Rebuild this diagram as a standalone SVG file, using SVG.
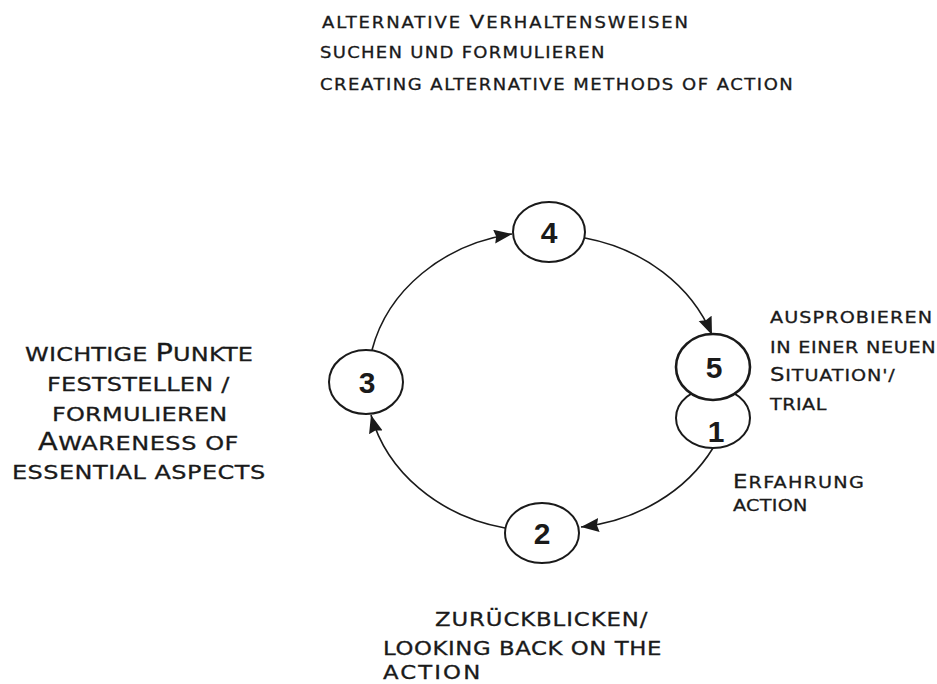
<svg xmlns="http://www.w3.org/2000/svg" width="937" height="684" viewBox="0 0 937 684">
<defs>
<style>
.lbl{font-family:"DejaVu Sans","Liberation Sans",Arial,sans-serif;fill:#1a1a1a;stroke:#1a1a1a;stroke-width:0.3;}
.node ellipse{fill:#fff;stroke:#1a1a1a;stroke-width:2;}
.node text{font-family:"Liberation Sans",Arial,sans-serif;font-weight:bold;font-size:30px;fill:#1a1a1a;text-anchor:middle;}
.conn path{fill:none;stroke:#1a1a1a;stroke-width:1.6;marker-end:url(#arr);}
</style>
<marker id="arr" markerUnits="userSpaceOnUse" markerWidth="19" markerHeight="15" refX="18" refY="7" orient="auto">
<path d="M0,0 L18,7 L0,14 L2,7 z" fill="#1a1a1a"/>
</marker>
</defs>
<rect width="937" height="684" fill="#fff"/>

<g id="connectors" class="conn">
<path d="M372,350 A174,152 0 0,1 512,234"/>
<path d="M585,238 A174,152 0 0,1 712,335"/>
<path d="M713,448 A174,152 0 0,1 581,527"/>
<path d="M505,528 A174,152 0 0,1 371,415"/>
</g>

<g id="node4" class="node"><ellipse cx="549" cy="232" rx="36" ry="30"/><text x="549" y="243">4</text></g>
<g id="node3" class="node"><ellipse cx="366" cy="382" rx="37" ry="32"/><text x="367" y="393">3</text></g>
<g id="node2" class="node"><ellipse cx="542" cy="533" rx="37" ry="30"/><text x="542" y="544">2</text></g>
<g id="node1" class="node"><ellipse cx="713" cy="418" rx="37" ry="30"/><text x="716" y="442">1</text></g>
<g id="node5" class="node"><ellipse cx="713" cy="367" rx="37" ry="33" style="stroke-width:2.6"/><text x="714" y="378">5</text></g>

<g id="label-top" class="lbl" font-size="15">
<text transform="translate(322,28) scale(1.2,1)" textLength="305" lengthAdjust="spacing">ALTERNATIVE <tspan font-size="18">V</tspan>ERHALTENSWEISEN</text>
<text transform="translate(320,58) scale(1.2,1)" textLength="237" lengthAdjust="spacing">SUCHEN UND FORMULIEREN</text>
<text transform="translate(320,90) scale(1.2,1)" textLength="394" lengthAdjust="spacing">CREATING ALTERNATIVE METHODS OF ACTION</text>
</g>

<g id="label-left" class="lbl" font-size="20">
<text transform="translate(25,361) scale(1.2,1)" textLength="190" lengthAdjust="spacing">WICHTIGE <tspan font-size="24">P</tspan>UNKTE</text>
<text transform="translate(47,391) scale(1.2,1)" textLength="152" lengthAdjust="spacing">FESTSTELLEN /</text>
<text transform="translate(52,421) scale(1.2,1)" textLength="146" lengthAdjust="spacing">FORMULIEREN</text>
<text transform="translate(38,450) scale(1.2,1)" textLength="167" lengthAdjust="spacing"><tspan font-size="24">A</tspan>WARENESS OF</text>
<text transform="translate(12,479) scale(1.2,1)" textLength="211" lengthAdjust="spacing">ESSENTIAL ASPECTS</text>
</g>

<g id="label-right" class="lbl" font-size="16">
<text transform="translate(770,323) scale(1.2,1)" textLength="135" lengthAdjust="spacing">AUSPROBIEREN</text>
<text transform="translate(770,353) scale(1.2,1)" textLength="138" lengthAdjust="spacing">IN EINER NEUEN</text>
<text transform="translate(770,381) scale(1.2,1)" textLength="104" lengthAdjust="spacing"><tspan font-size="19">S</tspan>ITUATION'/</text>
<text transform="translate(770,410) scale(1.2,1)" textLength="47" lengthAdjust="spacing">TRIAL</text>
</g>

<g id="label-action" class="lbl" font-size="16">
<text transform="translate(733,488) scale(1.2,1)" textLength="109" lengthAdjust="spacing"><tspan font-size="19">E</tspan>RFAHRUNG</text>
<text transform="translate(733,511) scale(1.2,1)" textLength="62" lengthAdjust="spacing">ACTION</text>
</g>

<g id="label-bottom" class="lbl" font-size="19">
<text transform="translate(435,626) scale(1.2,1)" textLength="177" lengthAdjust="spacing">ZURÜCKBLICKEN/</text>
<text transform="translate(383,655) scale(1.2,1)" textLength="232" lengthAdjust="spacing">LOOKING BACK ON THE</text>
<text transform="translate(383,679) scale(1.2,1)" textLength="81" lengthAdjust="spacing">ACTION</text>
</g>
</svg>
